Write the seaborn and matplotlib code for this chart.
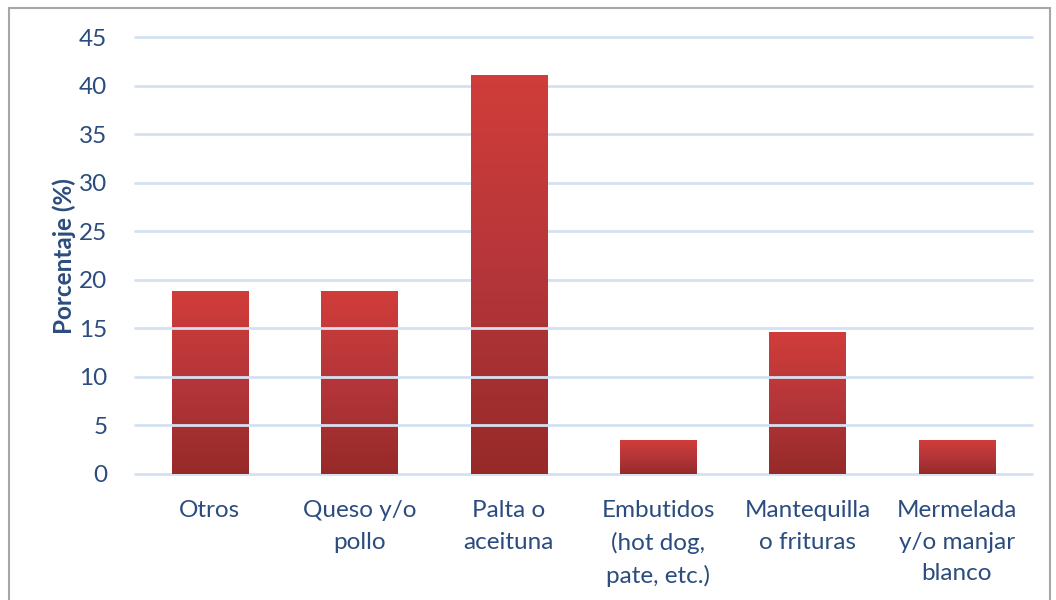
import numpy as np
import pandas as pd
import matplotlib.pyplot as plt
import matplotlib.colors as mcolors
from matplotlib.patches import Rectangle
import seaborn as sns

# data
categorias = ["Otros", "Queso y/o\npollo", "Palta o\naceituna", "Embutidos\n(hot dog,\npate, etc.)",
              "Mantequilla\no frituras", "Mermelada\ny/o manjar\nblanco"]
porcentajes = [18.8, 18.8, 41.1, 3.4, 14.6, 3.4]
yticks = [0, 5, 10, 15, 20, 25, 30, 35, 40, 45]

df = pd.DataFrame({"Categoria": categorias, "Porcentaje": porcentajes})

sns.set_style("white")
plt.rcParams['font.family'] = ['Lato', 'DejaVu Sans']
text_color = "#2B4C7E"
grid_color = "#D5E0F1"

fig = plt.figure(figsize=(10.56, 6), dpi=100)
ax = fig.add_axes([0.128, 0.21, 0.849, 0.728])

sns.barplot(data=df, x="Categoria", y="Porcentaje", color="#C0392B", width=0.51, ax=ax, zorder=2)

# vertical red gradient on each bar
cmap = mcolors.LinearSegmentedColormap.from_list("rojo", ["#962A29", "#B5363A", "#D03D39"])
grad = np.linspace(0, 1, 256).reshape(-1, 1)
for p in ax.patches:
    x, w, h = p.get_x(), p.get_width(), p.get_height()
    ax.imshow(grad, cmap=cmap, origin="lower", aspect="auto",
              extent=[x, x + w, 0, h], zorder=2)
    p.set_visible(False)

ax.set_xlim(-0.5, len(categorias) - 0.5)
ax.set_ylim(0, 45)
ax.set_yticks(yticks)

# gridlines: lower ones show over the bars in the original, upper ones behind
for t in yticks:
    ax.axhline(t, color=grid_color, lw=2, zorder=3 if 0 < t <= 15 else 1, clip_on=False)

for s in ax.spines.values():
    s.set_visible(False)
ax.tick_params(axis="both", length=0, labelsize=17.5, labelcolor=text_color)
ax.tick_params(axis="y", pad=20)
ax.tick_params(axis="x", pad=19)
for lab in ax.get_xticklabels():
    lab.set_linespacing(1.6)
ax.set_xlabel("")
ax.set_ylabel("Porcentaje (%)", fontsize=17.5, fontweight="bold", color=text_color, labelpad=2)

# outer chart border
fig.patches.append(Rectangle((9 / 1056, -0.05), 1041 / 1056, 1.05 - 8 / 600, transform=fig.transFigure,
                             fill=False, edgecolor="#A6A6A6", lw=1.5))

plt.savefig("out.png", dpi=100)
